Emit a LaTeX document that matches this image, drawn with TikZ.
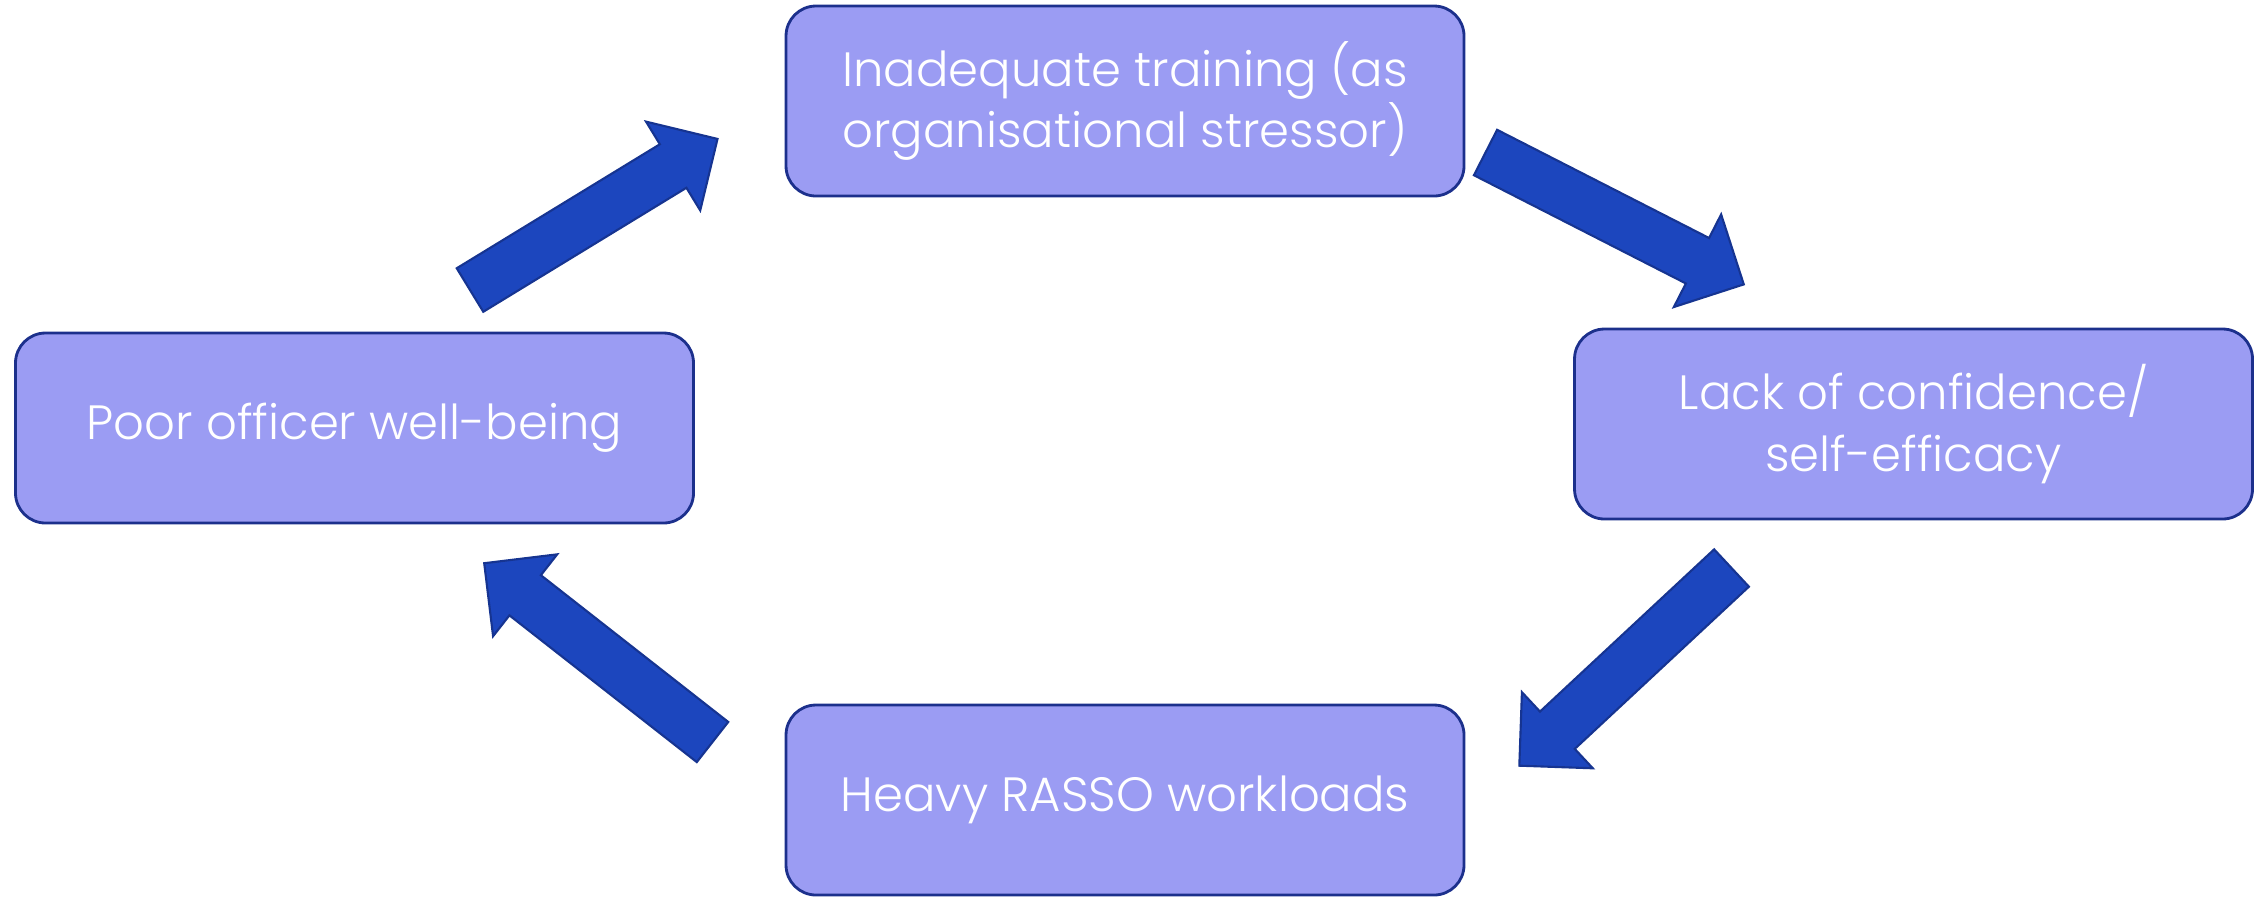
\documentclass[tikz,border=0pt]{standalone}
\usepackage{fontspec}
\setmainfont{Poppins}[UprightFont={* Light}]
\definecolor{boxfill}{RGB}{155,156,243}
\definecolor{boxline}{RGB}{28,48,140}
\definecolor{arrowfill}{RGB}{28,70,190}
\definecolor{arrowline}{RGB}{22,52,145}
\tikzset{
  box/.style={draw=boxline, fill=boxfill, line width=0.8pt, rounded corners=3mm,
    minimum width=67.8mm, minimum height=19mm, align=center, text=white,
    font=\fontsize{13.7}{17.5}\selectfont},
  pics/blockarrow/.style={code={
    \filldraw[fill=arrowfill, draw=arrowline, line width=0.6pt, line join=miter]
      (0,-25.5) -- (238,-25.5) -- (238,-52) -- (290,0) -- (238,52)
      -- (238,25.5) -- (0,25.5) -- cycle;
  }}
}
\begin{document}
\begin{tikzpicture}[x=0.1mm, y=-0.1mm]
  \useasboundingbox (0,0) rectangle (2262,896);

  % the four stages of the cycle
  \node[box] (training) at (1125,101) {Inadequate training (as\\organisational stressor)};
  \node[box] (confidence) at (1913.5,424) {Lack of confidence/\\self-efficacy};
  \node[box] (workload) at (1125,800) {Heavy RASSO workloads};
  \node[box] (wellbeing) at (354.5,428) {Poor officer well-being};

  % tails of the block arrows between the stages
  \coordinate (a1) at (470,290);
  \coordinate (a2) at (1485.5,152.5);
  \coordinate (a3) at (1731.5,568);
  \coordinate (a4) at (712.5,742);

  \pic[rotate=31.4]   at (a1) {blockarrow};
  \pic[rotate=-27.05] at (a2) {blockarrow};
  \pic[rotate=222.97] at (a3) {blockarrow};
  \pic[rotate=141.93] at (a4) {blockarrow};
\end{tikzpicture}
\end{document}
